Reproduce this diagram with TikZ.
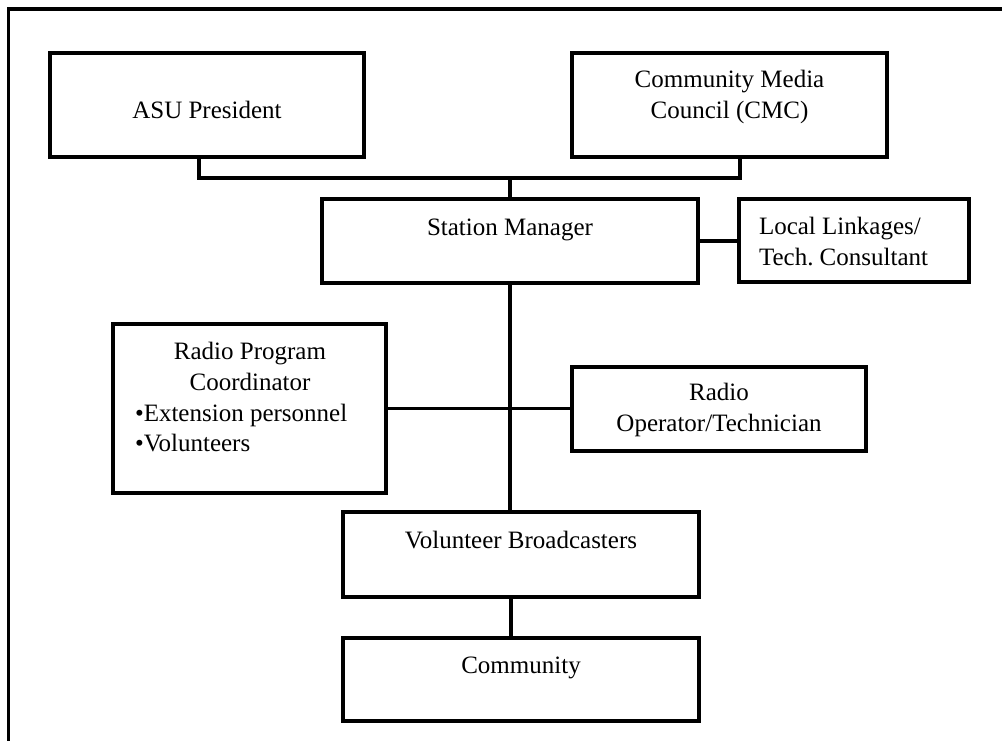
\documentclass[tikz,border=0pt]{standalone}
\usepackage{fontspec}
\setmainfont{Liberation Serif}
\frenchspacing
\begin{document}
\begin{tikzpicture}[x=1pt,y=-1pt,
  box/.style={draw,line width=3.2pt,rectangle,inner sep=0pt,outer sep=0pt},
  conn/.style={line width=3.2pt},
  txt/.style={inner sep=0pt,outer sep=0pt,font=\fontsize{25}{30.5}\selectfont}]
\useasboundingbox (0,0) rectangle (1002,740);
\clip (0,0) rectangle (1002,740);
% outer frame (right and bottom edges fall outside the page)
\draw[line width=3.2pt] (8.5,9) rectangle (1020,760);
% boxes
\node[box,minimum width=314pt,minimum height=104pt] (asu) at (207,105) {};
\node[box,minimum width=315pt,minimum height=104pt] (cmc) at (729.5,105) {};
\node[box,minimum width=376pt,minimum height=84pt] (sm) at (510,241) {};
\node[box,minimum width=230pt,minimum height=83pt] (ll) at (854,240.5) {};
\node[box,minimum width=273pt,minimum height=169pt] (rpc) at (249.5,408.5) {};
\node[box,minimum width=294pt,minimum height=84pt] (rop) at (719,409) {};
\node[box,minimum width=356pt,minimum height=85pt] (vb) at (521,554.5) {};
\node[box,minimum width=356pt,minimum height=83pt] (com) at (521,679.5) {};
% texts (anchor=base is the baseline of the last line)
\node[txt,anchor=base] (asuT) at (207,118) {ASU President};
\node[txt,anchor=base,align=center] (cmcT) at (729.5,118) {Community Media\\Council (CMC)};
\node[txt,anchor=base] (smT) at (510,235) {Station Manager};
\node[txt,anchor=base west,align=left] (llT) at (759,265) {Local Linkages/\\Tech. Consultant};
\node[txt,anchor=base,align=center] (rpcT) at (250,390) {Radio Program\\Coordinator};
\node[txt,anchor=base west,align=left] (rpcB) at (135,451.5) {•Extension personnel\\•Volunteers};
\node[txt,anchor=base,align=center] (ropT) at (719,431) {Radio\\Operator/Technician};
\node[txt,anchor=base] (vbT) at (521,548) {Volunteer Broadcasters};
\node[txt,anchor=base] (comT) at (521,673) {Community};
% connectors
\draw[conn] ([xshift=-8pt]asu.south) -- ++(0,21) -| ([xshift=10.5pt]cmc.south);
\draw[conn] (sm.north) -- ++(0,-21);
\draw[conn] (sm.east) -- (sm.east -| ll.west);
\draw[conn] (sm.south) -- (sm.south |- vb.north);
\draw[conn] (rpc.east) -- (rpc.east -| rop.west);
\draw[conn] ([xshift=-10pt]vb.south) -- ([xshift=-10pt]com.north);
\end{tikzpicture}
\end{document}
